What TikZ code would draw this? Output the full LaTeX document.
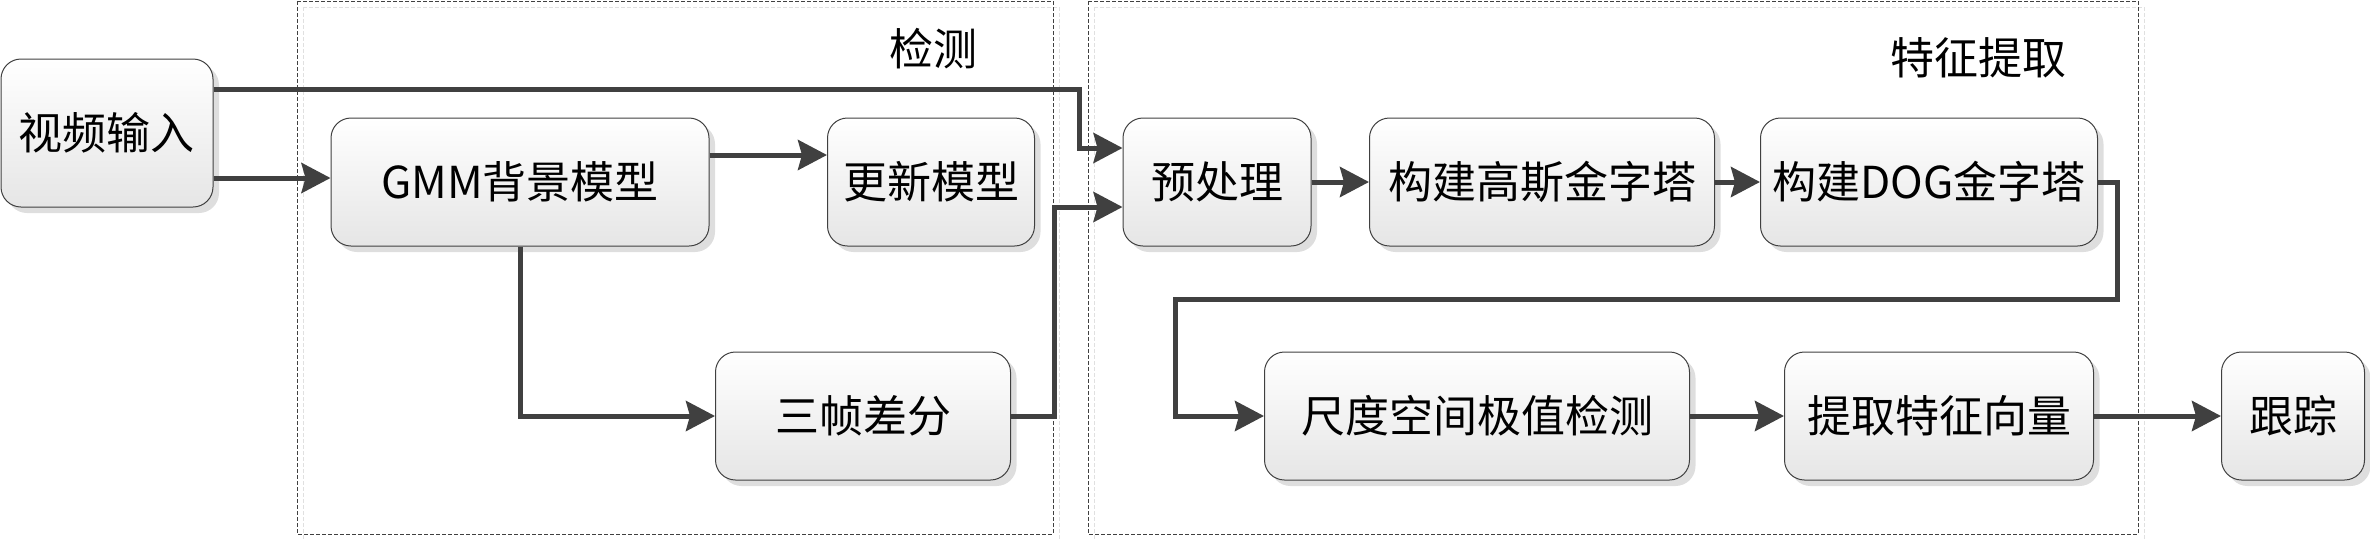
\documentclass[tikz,border=0pt]{standalone}
\usepackage{fontspec}
\newfontfamily\cjk{Noto Sans CJK SC}
\usetikzlibrary{arrows.meta,shadows,calc}

\begin{document}
\begin{tikzpicture}[x=1pt,y=-1pt,
        arrow/.style={color=black!75,line width=5pt,
            -{Stealth[length=29pt,width=30pt,inset=4pt]}},
        frame/.style={line width=1pt,dash pattern=on 4pt off 2pt}]
    \useasboundingbox (0,0) rectangle (2370,539);

    \draw[frame,black!12] (303,7) rectangle (1059,540);
    \draw[frame,black!75] (297,1) rectangle (1053,534);
    \draw[frame,black!12] (1094,7) rectangle (2144,540);
    \draw[frame,black!75] (1088,1) rectangle (2138,534);

    \begin{scope}[every node/.style={font=\cjk\fontsize{44}{50}\selectfont}]
        \node (det) at (933,49) {检测};
        \node (ext) at (1978,58) {特征提取};
    \end{scope}

    \begin{scope}[every node/.style={rectangle, rounded corners=20pt, draw=black!75,
                    line width=1pt, top color=white, bottom color=black!10,
                    drop shadow={shadow xshift=6pt,shadow yshift=-6pt,fill=black!13,opacity=1},
                    minimum height=128pt, inner sep=0pt,
                    font=\cjk\fontsize{44}{50}\selectfont}]

        \node[minimum width=212pt,minimum height=148pt] (vid) at (107,133) {视频输入};
        \node[minimum width=378pt] (gmm) at (520,182) {GMM背景模型};
        \node[minimum width=207pt] (upd) at (931,182) {更新模型};
        \node[minimum width=295pt] (dif) at (863,416) {三帧差分};
        \node[minimum width=188pt] (pre) at (1217,182) {预处理};
        \node[minimum width=345pt] (gau) at (1542,182) {构建高斯金字塔};
        \node[minimum width=337pt] (dog) at (1929,182) {构建DOG金字塔};
        \node[minimum width=425pt] (scl) at (1477,416) {尺度空间极值检测};
        \node[minimum width=309pt] (vec) at (1939,416) {提取特征向量};
        \node[minimum width=143pt] (trk) at (2293,416) {跟踪};

    \end{scope}

    \coordinate (vout1) at ([yshift=44pt]vid.east);
    \coordinate (vout2) at ([yshift=-45pt]vid.east);
    \coordinate (pin1) at ([yshift=34pt]pre.west);
    \coordinate (pin2) at ([yshift=-25pt]pre.west);

    \draw[arrow] (vout1) -| ($(pin1)+(-43,0)$) -- (pin1);
    \path[arrow] (vout2) edge (vout2 -| gmm.west);
    \path[arrow] ([yshift=27pt]gmm.east) edge ([yshift=27pt]upd.west);
    \draw[arrow] (gmm.south) |- (dif.west);
    \draw[arrow] (dif.east) -| ($(pin2)+(-68,0)$) -- (pin2);

    \path[arrow] (pre) edge (gau);
    \path[arrow] (gau) edge (dog);
    \draw[arrow] (dog.east) -- ++(19,0) -- ++(0,117) -| ($(scl.west)+(-89,0)$) -- (scl.west);
    \path[arrow] (scl) edge (vec);
    \path[arrow] (vec) edge (trk);

\end{tikzpicture}
\end{document}
